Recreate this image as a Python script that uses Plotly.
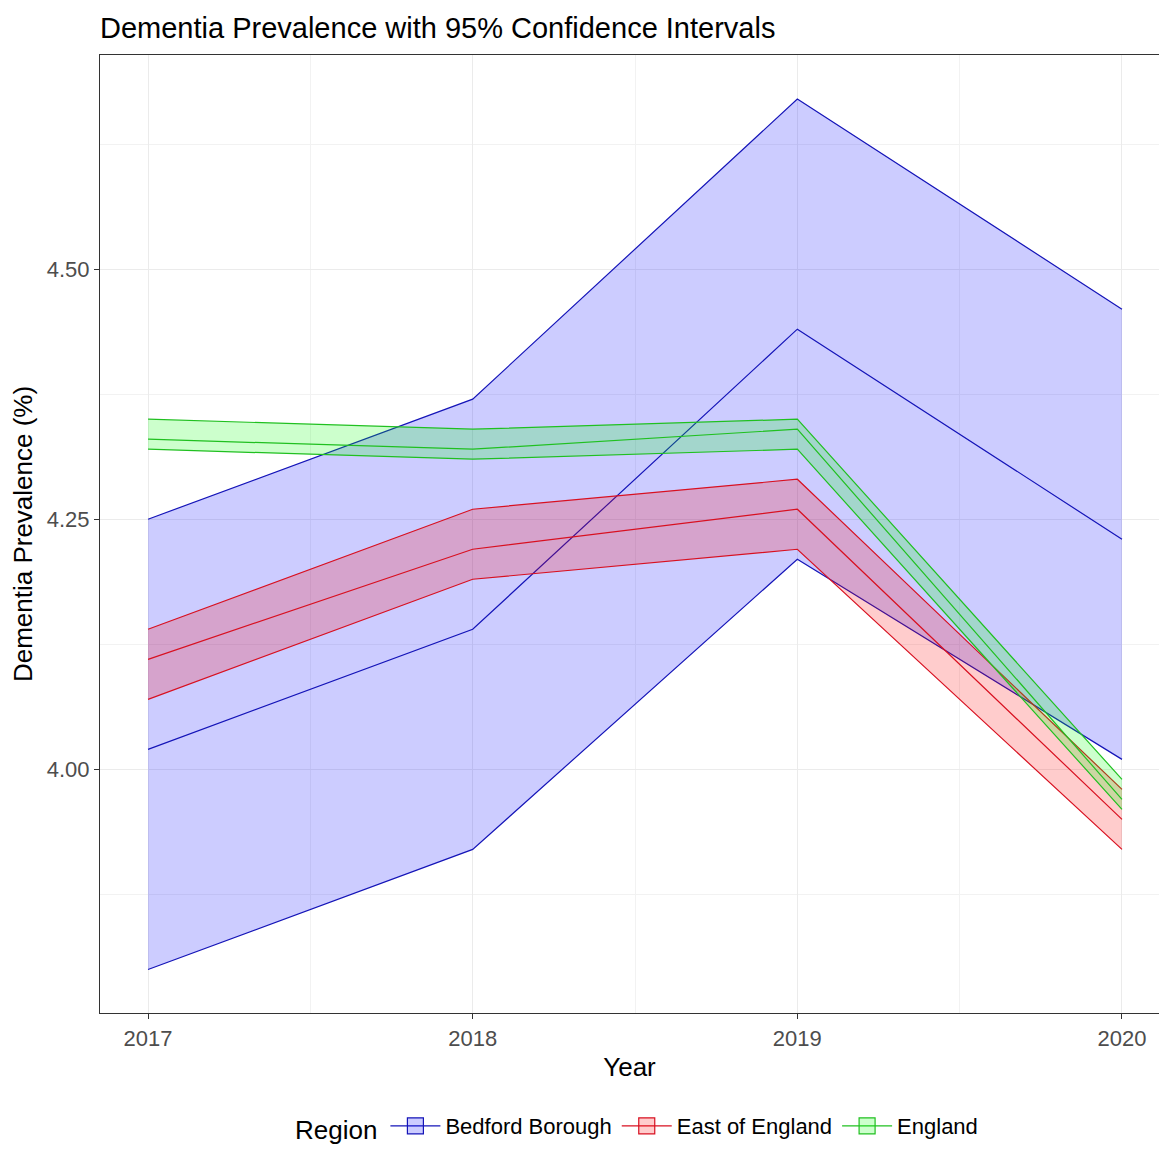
import plotly.graph_objects as go

years = [2017, 2018, 2019, 2020]
regions = ["Bedford Borough", "East of England", "England"]

bedford_mean = [4.02, 4.14, 4.44, 4.23]
bedford_lower = [3.80, 3.92, 4.21, 4.01]
bedford_upper = [4.25, 4.37, 4.67, 4.46]

east_mean = [4.11, 4.22, 4.26, 3.95]
east_lower = [4.07, 4.19, 4.22, 3.92]
east_upper = [4.14, 4.26, 4.29, 3.98]

england_mean = [4.33, 4.32, 4.34, 3.97]
england_lower = [4.32, 4.31, 4.32, 3.96]
england_upper = [4.35, 4.34, 4.35, 3.99]

line_colors = ["#1414B8", "#D81020", "#20C020"]
fill_colors = ["rgba(0,0,255,0.2)", "rgba(255,0,0,0.2)", "rgba(0,255,0,0.2)"]

series = [
    (bedford_lower, bedford_upper, bedford_mean),
    (east_lower, east_upper, east_mean),
    (england_lower, england_upper, england_mean),
]

# page body has an 8px default margin; figure sized to fit the window without scrollbars
W, H = 1151, 1141
FONT = "Liberation Sans, Arial, sans-serif"
fig = go.Figure()
for name, (lo, up, mn), lc, fc in zip(regions, series, line_colors, fill_colors):
    fig.add_trace(go.Scatter(x=years, y=lo, mode="lines", line=dict(color=lc, width=1.2),
                             legendgroup=name, showlegend=False, hoverinfo="skip"))
    fig.add_trace(go.Scatter(x=years, y=up, mode="lines", line=dict(color=lc, width=1.2),
                             fill="tonexty", fillcolor=fc, name=name, legendgroup=name,
                             showlegend=False))
    fig.add_trace(go.Scatter(x=years, y=mn, mode="lines", line=dict(color=lc, width=1.2),
                             legendgroup=name, showlegend=False))
    # legend key: filled square with border and a line through it
    fig.add_trace(go.Scatter(x=[None], y=[None], mode="lines+markers", name=name,
                             legendgroup=name, showlegend=True,
                             line=dict(color=lc, width=1.2),
                             marker=dict(symbol="square", size=30, color=fc,
                                         line=dict(color=lc, width=1.2))))

fig.update_layout(
    width=W, height=H,
    margin=dict(l=92, r=0, t=47, b=136, autoexpand=False),
    paper_bgcolor="white", plot_bgcolor="white",
    font=dict(family=FONT, color="black"),
    title=dict(text="Dementia Prevalence with 95% Confidence Intervals",
               x=92/W, xanchor="left", xref="container",
               y=1 - 20/H, yanchor="middle", yref="container",
               font=dict(size=29, color="black", family=FONT)),
    xaxis=dict(
        range=[2016.852, 2020.114], tickmode="array", tickvals=years,
        ticktext=[str(y) for y in years], automargin=False,
        showgrid=True, gridcolor="#EBEBEB", gridwidth=1,
        minor=dict(tickmode="array", tickvals=[2017.5, 2018.5, 2019.5], showgrid=True,
                   gridcolor="#F2F2F2", gridwidth=1),
        showline=True, linecolor="#333333", linewidth=1.2, mirror=True,
        ticks="outside", ticklen=5, tickcolor="#333333", tickwidth=1,
        tickfont=dict(size=22, color="#4D4D4D"),
        title=dict(text="Year", font=dict(size=26, color="black"), standoff=8),
        zeroline=False,
    ),
    yaxis=dict(
        range=[3.7565, 4.714], tickmode="array", tickvals=[4.0, 4.25, 4.5],
        ticktext=["4.00", "4.25", "4.50"], automargin=False,
        showgrid=True, gridcolor="#EBEBEB", gridwidth=1,
        minor=dict(tickmode="array", tickvals=[3.875, 4.125, 4.375, 4.625], showgrid=True,
                   gridcolor="#F2F2F2", gridwidth=1),
        showline=True, linecolor="#333333", linewidth=1.2, mirror=False,
        ticks="outside", ticklen=5, tickcolor="#333333", tickwidth=1,
        tickfont=dict(size=22, color="#4D4D4D"),
        title=dict(text="Dementia Prevalence (%)", font=dict(size=26, color="black"), standoff=6),
        zeroline=False,
    ),
    legend=dict(
        orientation="h", xref="container", x=630/W, xanchor="center",
        yref="container", y=-0.007, yanchor="bottom",
        title=dict(text="Region", font=dict(size=26, color="black")),
        font=dict(size=22, color="black"), itemsizing="trace",
        bgcolor="rgba(0,0,0,0)", itemwidth=50,
    ),
)

fig.write_html("out.html")
